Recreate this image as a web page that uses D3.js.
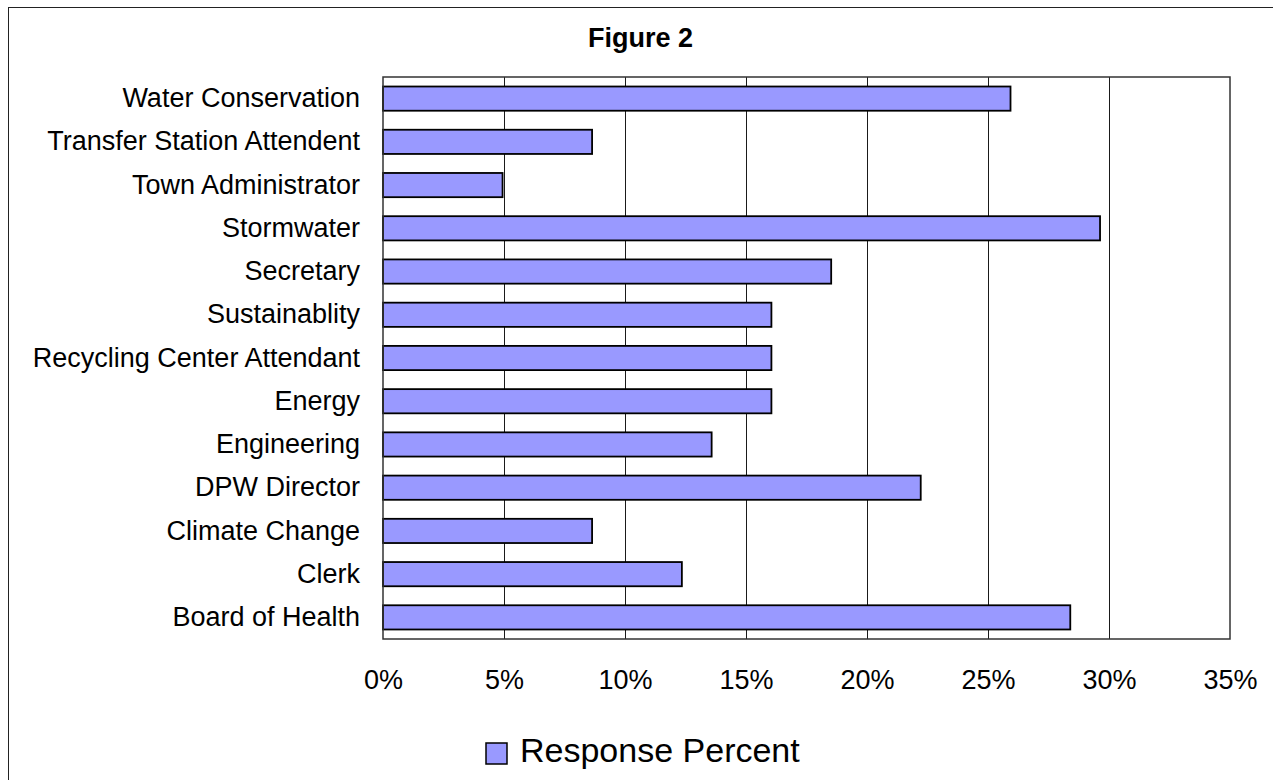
<!DOCTYPE html>
<html>
<head>
<meta charset="utf-8">
<script src="https://cdn.jsdelivr.net/npm/d3@7"></script>
<style>
  html, body { margin: 0; padding: 0; background: #fff; }
  svg { display: block; font-family: "Liberation Sans", Arial, sans-serif; }
</style>
</head>
<body>
<div id="chart"></div>
<script>
// categories top to bottom, as in the figure
const categories = [
    "Water Conservation", "Transfer Station Attendent", "Town Administrator",
    "Stormwater", "Secretary", "Sustainablity", "Recycling Center Attendant",
    "Energy", "Engineering", "DPW Director", "Climate Change", "Clerk",
    "Board of Health"
];
// response percent
const responsePercent = [25.93, 8.64, 4.94, 29.63, 18.52, 16.05, 16.05, 16.05, 13.58, 22.22, 8.64, 12.35, 28.40];
const xTicks = [0, 5, 10, 15, 20, 25, 30, 35];
const seriesName = "Response Percent";
const chartTitle = "Figure 2";

const width = 1273;
const height = 780;
const margin = ({top: 77, right: 43, bottom: 141, left: 383});
const barColor = "#9999ff";

const svg = d3.select("#chart")
    .append("svg")
    .attr("width", width)
    .attr("height", height);

// outer chart frame (right / bottom edges fall outside the picture)
svg.append("rect")
    .attr("x", 8.5).attr("y", 7.5)
    .attr("width", width + 20).attr("height", height + 20)
    .attr("fill", "#fff")
    .attr("stroke", "#222");

const x = d3.scaleLinear()
    .domain([0, 35])
    .range([margin.left, width - margin.right]);

const y = d3.scaleBand()
    .domain(categories)
    .range([margin.top, height - margin.bottom])
    .paddingInner(0.44)
    .paddingOuter(0.22);

// vertical gridlines
svg.append("g")
    .attr("transform", `translate(0,${height - margin.bottom})`)
    .call(d3.axisBottom(x).tickValues(xTicks.slice(1, -1)).tickFormat("")
        .tickSize(-(height - margin.top - margin.bottom)))
    .call(g => g.select(".domain").remove())
    .call(g => g.selectAll("line").attr("stroke", "#1a1a1a").attr("stroke-width", 1));

// bars
svg.append("g")
    .selectAll("rect")
    .data(responsePercent)
    .join("rect")
    .attr("x", x(0))
    .attr("y", (d, i) => y(categories[i]))
    .attr("width", d => x(d) - x(0))
    .attr("height", y.bandwidth())
    .attr("fill", barColor)
    .attr("stroke", "#000")
    .attr("stroke-width", 1.8);

// plot area border
svg.append("rect")
    .attr("x", x(0)).attr("y", margin.top)
    .attr("width", x(35) - x(0))
    .attr("height", height - margin.top - margin.bottom)
    .attr("fill", "none")
    .attr("stroke", "#333")
    .attr("stroke-width", 1.5);

// x axis labels
svg.append("g")
    .attr("transform", `translate(0,${height - margin.bottom})`)
    .call(d3.axisBottom(x).tickValues(xTicks).tickFormat(d => d + "%").tickSize(0).tickPadding(31))
    .call(g => g.select(".domain").remove())
    .selectAll("text")
    .attr("fill", "#000")
    .style("font-size", "27px");

// y axis labels
svg.append("g")
    .attr("transform", `translate(${margin.left},0)`)
    .call(d3.axisLeft(y).tickSize(0).tickPadding(23))
    .call(g => g.select(".domain").remove())
    .selectAll("text")
    .attr("fill", "#000")
    .style("font-size", "27px");

// title
svg.append("text")
    .attr("x", (8 + width) / 2)
    .attr("y", 47)
    .attr("text-anchor", "middle")
    .style("font-size", "27px")
    .style("font-weight", "bold")
    .text(chartTitle);

// legend
const legend = svg.append("g").attr("transform", "translate(486,743)");
legend.append("rect")
    .attr("width", 21).attr("height", 21)
    .attr("fill", barColor)
    .attr("stroke", "#000")
    .attr("stroke-width", 1.5);
legend.append("text")
    .attr("x", 34)
    .attr("y", 19)
    .style("font-size", "34px")
    .text(seriesName);
</script>
</body>
</html>
